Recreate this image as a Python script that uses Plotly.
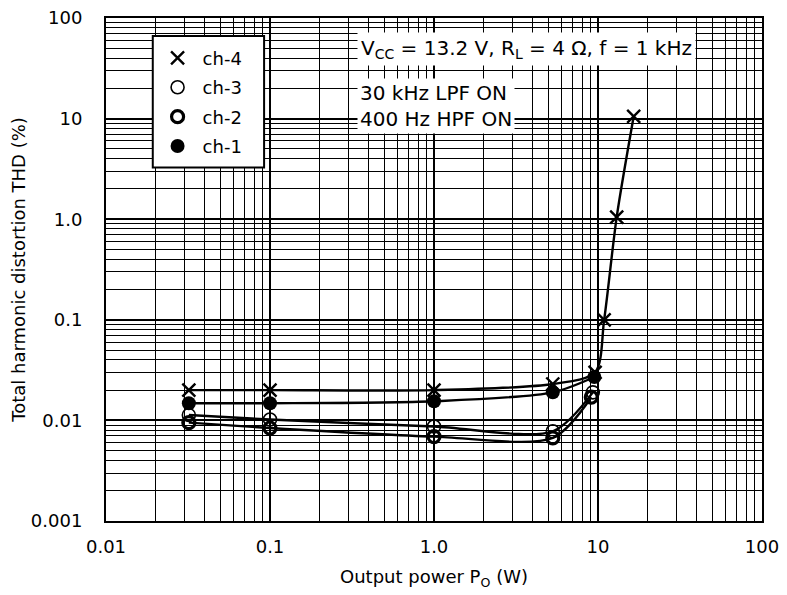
import plotly.graph_objects as go

# Data
ch4_p = [0.032, 0.1, 1.0, 5.3, 9.6, 10.9, 13.0, 16.5]
ch4_thd = [0.020, 0.020, 0.020, 0.023, 0.030, 0.10, 1.05, 10.5]
ch3_p = [0.032, 0.1, 1.0, 5.3, 9.3]
ch3_thd = [0.0113, 0.0102, 0.0087, 0.0078, 0.019]
ch2_p = [0.032, 0.1, 1.0, 5.3, 9.1]
ch2_thd = [0.0095, 0.0084, 0.0069, 0.0067, 0.017]
ch1_p = [0.032, 0.1, 1.0, 5.3, 9.5]
ch1_thd = [0.0148, 0.0148, 0.0155, 0.019, 0.027]

x_tickvals = [0.01, 0.1, 1, 10, 100]
x_ticktext = ["0.01", "0.1", "1.0", "10", "100"]
y_tickvals = [0.001, 0.01, 0.1, 1, 10, 100]
y_ticktext = ["0.001", "0.01", "0.1", "1.0", "10", "100"]

FONT = "DejaVu Sans, Liberation Sans, sans-serif"
FS = 18
FA = 20

fig = go.Figure()

series = [
    ("ch-4", ch4_p, ch4_thd, dict(symbol="x-thin", size=13, color="black", line=dict(width=2.4, color="black"))),
    ("ch-3", ch3_p, ch3_thd, dict(symbol="circle-open", size=13, color="black", line=dict(width=1.6, color="black"))),
    ("ch-2", ch2_p, ch2_thd, dict(symbol="circle-open", size=12, color="black", line=dict(width=3.2, color="black"))),
    ("ch-1", ch1_p, ch1_thd, dict(symbol="circle", size=14, color="black", line=dict(width=0, color="black"))),
]

for name, xs, ys, mk in series:
    fig.add_trace(go.Scatter(x=xs, y=ys, mode="lines", showlegend=False,
                             line=dict(color="black", width=2.4, shape="spline", smoothing=0.8),
                             hoverinfo="skip"))
for i, (name, xs, ys, mk) in enumerate(series):
    fig.add_trace(go.Scatter(x=xs, y=ys, mode="markers", name=name, marker=mk,
                             legendgroup="g%d" % i))

axis_common = dict(
    type="log",
    showline=True, linecolor="black", linewidth=2, mirror=True,
    showgrid=True, gridcolor="black", gridwidth=1.6,
    ticks="", zeroline=False, ticklabeloverflow="allow",
    tickfont=dict(family=FONT, size=FS, color="black"),
    minor=dict(showgrid=True, gridcolor="black", gridwidth=1.2, dtick="D1", ticks=""),
)

fig.update_xaxes(**axis_common, range=[-2, 2], tickvals=x_tickvals, ticktext=x_ticktext,
                 ticklabelstandoff=8, automargin="bottom+height",
                 title=dict(text="Output power P<sub>O</sub> (W)", font=dict(family=FONT, size=FS, color="black"), standoff=15))
fig.update_yaxes(**axis_common, range=[-3, 2], tickvals=y_tickvals, ticktext=y_ticktext,
                 ticklabelstandoff=18, automargin="left+width",
                 title=dict(text="Total harmonic distortion THD (%)", font=dict(family=FONT, size=FS, color="black"), standoff=2))

fig.add_annotation(xref="paper", yref="paper", x=0.641, y=0.939, xanchor="center", yanchor="middle",
                   text="V<sub>CC</sub> = 13.2 V, R<sub>L</sub> = 4 Ω, f = 1 kHz", showarrow=False,
                   font=dict(family=FONT, size=FA, color="black"), bgcolor="white", borderpad=3)
fig.add_annotation(xref="paper", yref="paper", x=0.383, y=0.826, xanchor="left", yanchor="middle",
                   text="30 kHz LPF ON<br>400 Hz HPF ON", showarrow=False, align="left",
                   font=dict(family=FONT, size=FA, color="black"), bgcolor="white", borderpad=2)

# legend frame
fig.add_shape(type="rect", xref="paper", yref="paper", x0=0.0713, x1=0.241, y0=0.703, y1=0.964,
              fillcolor="white", line=dict(color="black", width=2), layer="above")

fig.update_layout(
    width=779, height=587,
    margin=dict(l=94, r=25, t=8, b=74),
    paper_bgcolor="white", plot_bgcolor="white",
    font=dict(family=FONT, color="black"),
    legend=dict(x=0.071, y=0.957, xanchor="left", yanchor="top",
                bgcolor="rgba(0,0,0,0)", borderwidth=0,
                font=dict(family=FONT, size=FS, color="black"),
                traceorder="grouped", tracegroupgap=3,
                itemwidth=40),
)

fig.write_html("out.html")
